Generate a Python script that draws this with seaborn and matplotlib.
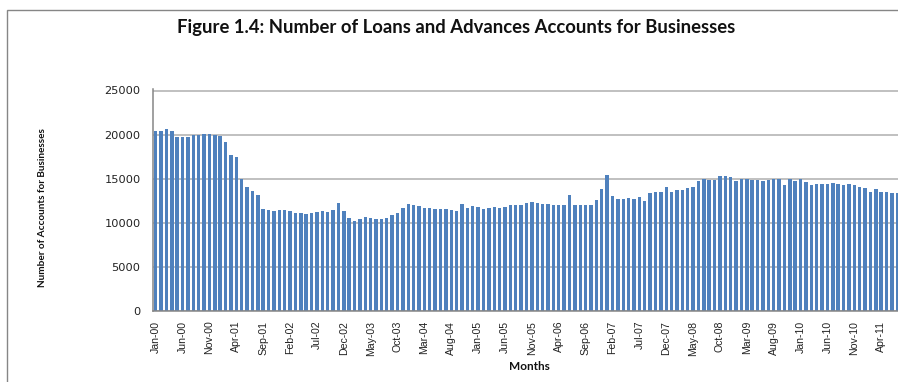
import matplotlib
matplotlib.use("Agg")
import matplotlib.pyplot as plt
from matplotlib.patches import Rectangle
import numpy as np
import pandas as pd
import seaborn as sns

# Monthly number of loan and advance accounts held by businesses, Jan 2000 - Jul 2011
accounts = [
    20400, 20400, 20650, 20400, 19750, 19750, 19750, 19970, 19970, 20080, 20080, 19970,
    19850, 19180, 17660, 17470, 14980, 14070, 13620, 13160, 11570, 11460, 11350, 11460,
    11460, 11350, 11120, 11120, 11000, 11120, 11230, 11350, 11230, 11460, 12250, 11350,
    10550, 10210, 10440, 10670, 10550, 10440, 10440, 10550, 10890, 11120, 11690, 12140,
    12030, 11910, 11690, 11690, 11570, 11570, 11570, 11460, 11350, 12140, 11690, 11910,
    11800, 11570, 11690, 11800, 11690, 11800, 12030, 12030, 12030, 12250, 12370, 12250,
    12140, 12140, 12030, 12030, 12030, 13160, 12030, 12030, 12030, 12030, 12590, 13840,
    15430, 13050, 12710, 12710, 12820, 12710, 12930, 12480, 13390, 13500, 13500, 14070,
    13500, 13730, 13730, 13960, 14070, 14750, 14980, 14860, 14860, 15320, 15320, 15200,
    14750, 14980, 14980, 14860, 14860, 14750, 14860, 14980, 14980, 14300, 14980, 14750,
    14980, 14640, 14300, 14410, 14410, 14410, 14520, 14410, 14300, 14410, 14300, 14070,
    13960, 13500, 13840, 13500, 13500, 13390, 13390,
]
months = list(pd.date_range("2000-01-01", periods=len(accounts), freq="MS").strftime("%b-%y"))
label_step = 5
y_ticks = [0, 5000, 10000, 15000, 20000, 25000]

title = "Figure 1.4: Number of Loans and Advances Accounts for Businesses"
y_title = "Number of Accounts for Businesses"
x_title = "Months"

sns.set_style("white")
plt.rcParams["font.family"] = ["DejaVu Sans"]

W, H = 898, 382
fig = plt.figure(figsize=(W / 100, H / 100), dpi=100)
fig.patch.set_facecolor("white")

# a hair of headroom above 25000 so the top gridline is not clipped
y_top = 25000 * 1.006
ax = fig.add_axes([153 / W, 71 / H, 747 / W, 220.5 * 1.006 / H])
df = pd.DataFrame({"month": months, "accounts": accounts})
sns.barplot(data=df, x="month", y="accounts", color="#4F81BD", saturation=1,
            width=0.64, ax=ax, order=months, linewidth=0)

ax.set_xlim(-0.5, len(accounts) - 0.5)
ax.set_ylim(0, y_top)
ax.set_yticks(y_ticks)
ax.set_yticklabels([str(v) for v in y_ticks], fontsize=8.2, color="#222222")
ax.yaxis.grid(True, color="#C0C0C0", linewidth=1.4, linestyle="-")
ax.set_axisbelow(True)

pos = np.arange(0, len(accounts), label_step)
ax.set_xticks(pos)
ax.set_xticklabels([months[i] for i in pos], rotation=90, fontsize=7.6,
                   color="#222222", family="Liberation Sans")
ax.set_xticks(np.arange(-0.5, len(accounts), label_step), minor=True)
ax.tick_params(axis="x", which="major", length=0, pad=7)
ax.tick_params(axis="x", which="minor", length=4, color="#868686", width=1)
ax.tick_params(axis="y", length=5, color="#868686", width=1, pad=4)

ax.set_xlabel("")
ax.set_ylabel("")
for side in ("top", "right"):
    ax.spines[side].set_visible(False)
for side in ("left", "bottom"):
    ax.spines[side].set_color("#868686")
    ax.spines[side].set_linewidth(1.1)

fig.text(456 / W, 1 - 27 / H, title, ha="center", va="center",
         fontsize=13.3, fontweight="bold", family="Lato", color="#111111")
fig.text(43 / W, 1 - 208 / H, y_title, ha="center", va="center", rotation=90,
         fontsize=7.2, fontweight="bold", family="Lato", color="#111111")
fig.text(529 / W, 1 - 367 / H, x_title, ha="center", va="center",
         fontsize=8.5, fontweight="bold", family="Lato", color="#111111")

fig.patches.append(Rectangle((7.3 / W, -0.1), 1.2, 1.1 - 10.3 / H,
                             transform=fig.transFigure, fill=False,
                             edgecolor="#868686", linewidth=1.0, clip_on=False))

fig.savefig("out.png", dpi=100)
